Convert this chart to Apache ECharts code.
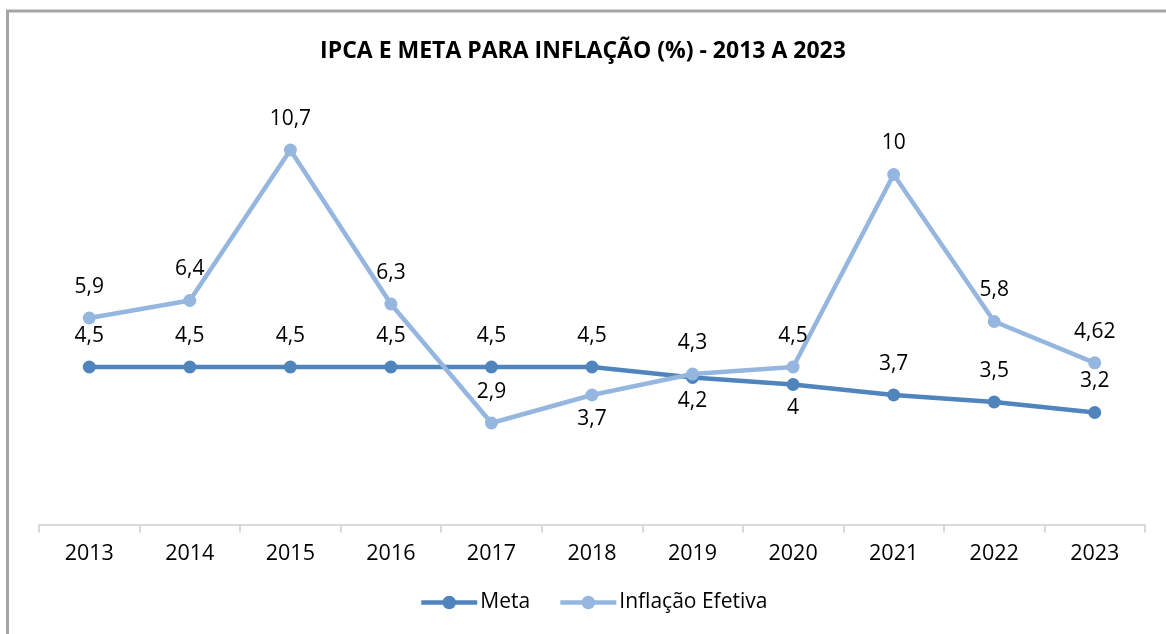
<!DOCTYPE html>
<html>
<head>
<meta charset="utf-8">
<script src="https://cdn.jsdelivr.net/npm/echarts@6/dist/echarts.min.js"></script>
<style>
html,body{margin:0;padding:0;background:#fff;}
#main{width:1166px;height:634px;}
</style>
</head>
<body>
<div id="main"></div>
<script>
const years = ['2013','2014','2015','2016','2017','2018','2019','2020','2021','2022','2023'];
const meta = [4.5, 4.5, 4.5, 4.5, 4.5, 4.5, 4.2, 4, 3.7, 3.5, 3.2];
const inflacao = [5.9, 6.4, 10.7, 6.3, 2.9, 3.7, 4.3, 4.5, 10, 5.8, 4.62];

const FONT = 'Open Sans';
const fmt = p => String(p.value).replace('.', ',');
const metaBelow = [6, 7];
const inflBelow = [5];

function buildData(vals, belowIdx) {
  return vals.map((v, i) => belowIdx.includes(i)
    ? { value: v, label: { position: 'bottom', distance: 7 } }
    : v);
}

const chart = echarts.init(document.getElementById('main'), null, { renderer: 'canvas' });
chart.setOption({
  backgroundColor: '#fff',
  animation: false,
  title: {
    text: 'IPCA E META PARA INFLAÇÃO (%) - 2013 A 2023',
    left: 'center',
    top: 35,
    textStyle: { fontFamily: FONT, fontWeight: 'bold', fontSize: 23, color: '#000' }
  },
  graphic: [{
    type: 'rect',
    shape: { x: 7.5, y: 11, width: 1300, height: 800 },
    style: { fill: 'none', stroke: '#A6A6A6', lineWidth: 3 },
    silent: true
  }],
  legend: {
    bottom: 16,
    left: 414,
    itemWidth: 56,
    itemHeight: 17,
    itemGap: 28,
    lineStyle: { width: 4.5 },
    textStyle: { fontFamily: FONT, fontSize: 21, color: '#000', padding: [0, 0, 0, -2] },
    data: ['Meta', 'Inflação Efetiva']
  },
  grid: { left: 39, right: 21, top: 104.5, bottom: 109.5 },
  xAxis: {
    type: 'category',
    data: years,
    boundaryGap: true,
    axisLine: { lineStyle: { color: '#D9D9D9', width: 2 } },
    axisTick: { show: true, length: 8, lineStyle: { color: '#D9D9D9', width: 2 } },
    axisLabel: { fontFamily: FONT, fontSize: 21.5, color: '#000', margin: 18 }
  },
  yAxis: { type: 'value', min: 0, max: 12, show: false, splitLine: { show: false } },
  series: [
    {
      name: 'Meta',
      type: 'line',
      data: buildData(meta, metaBelow),
      color: '#4F85BC',
      symbol: 'circle',
      symbolSize: 13,
      lineStyle: { width: 4.5, color: '#4F85BC' },
      itemStyle: { color: '#4F85BC' },
      label: { show: true, position: 'top', distance: 14, formatter: fmt,
        fontFamily: FONT, fontSize: 21, color: '#000' },
      z: 2
    },
    {
      name: 'Inflação Efetiva',
      type: 'line',
      data: buildData(inflacao, inflBelow),
      color: '#95B6DF',
      symbol: 'circle',
      symbolSize: 13,
      lineStyle: { width: 4.5, color: '#95B6DF' },
      itemStyle: { color: '#95B6DF' },
      label: { show: true, position: 'top', distance: 14, formatter: fmt,
        fontFamily: FONT, fontSize: 21, color: '#000' },
      z: 3
    }
  ]
});
</script>
</body>
</html>
